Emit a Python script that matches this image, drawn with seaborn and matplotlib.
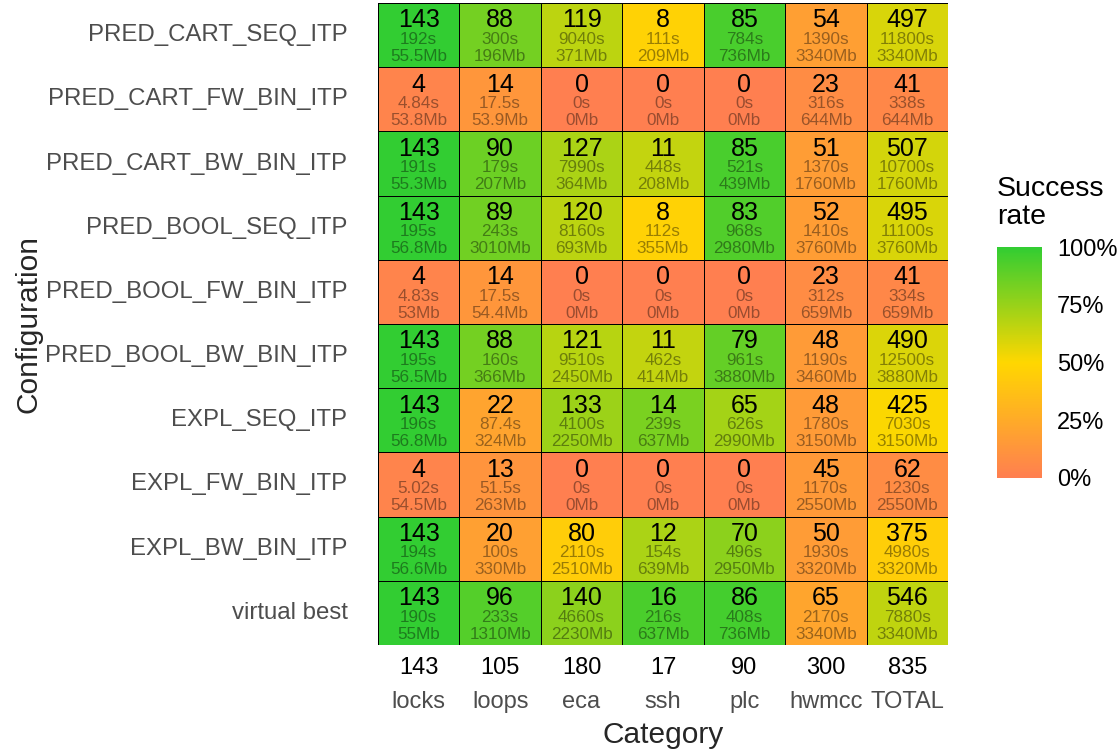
import numpy as np
import pandas as pd
import matplotlib
matplotlib.use('Agg')
import matplotlib.pyplot as plt
import matplotlib.transforms as mtransforms
import seaborn as sns
from matplotlib.colors import LinearSegmentedColormap

CONFIGS = [
    'PRED_CART_SEQ_ITP',
    'PRED_CART_FW_BIN_ITP',
    'PRED_CART_BW_BIN_ITP',
    'PRED_BOOL_SEQ_ITP',
    'PRED_BOOL_FW_BIN_ITP',
    'PRED_BOOL_BW_BIN_ITP',
    'EXPL_SEQ_ITP',
    'EXPL_FW_BIN_ITP',
    'EXPL_BW_BIN_ITP',
    'virtual best',
]
CATEGORIES = ['locks', 'loops', 'eca', 'ssh', 'plc', 'hwmcc', 'TOTAL']
CATEGORY_TOTALS = [143, 105, 180, 17, 90, 300, 835]

SOLVED = [
    [143, 88, 119, 8, 85, 54, 497],
    [4, 14, 0, 0, 0, 23, 41],
    [143, 90, 127, 11, 85, 51, 507],
    [143, 89, 120, 8, 83, 52, 495],
    [4, 14, 0, 0, 0, 23, 41],
    [143, 88, 121, 11, 79, 48, 490],
    [143, 22, 133, 14, 65, 48, 425],
    [4, 13, 0, 0, 0, 45, 62],
    [143, 20, 80, 12, 70, 50, 375],
    [143, 96, 140, 16, 86, 65, 546],
]

TIMES = [
    ['192s', '300s', '9040s', '111s', '784s', '1390s', '11800s'],
    ['4.84s', '17.5s', '0s', '0s', '0s', '316s', '338s'],
    ['191s', '179s', '7990s', '448s', '521s', '1370s', '10700s'],
    ['195s', '243s', '8160s', '112s', '968s', '1410s', '11100s'],
    ['4.83s', '17.5s', '0s', '0s', '0s', '312s', '334s'],
    ['195s', '160s', '9510s', '462s', '961s', '1190s', '12500s'],
    ['196s', '87.4s', '4100s', '239s', '626s', '1780s', '7030s'],
    ['5.02s', '51.5s', '0s', '0s', '0s', '1170s', '1230s'],
    ['194s', '100s', '2110s', '154s', '496s', '1930s', '4980s'],
    ['190s', '233s', '4660s', '216s', '408s', '2170s', '7880s'],
]

MEMORY = [
    ['55.5Mb', '196Mb', '371Mb', '209Mb', '736Mb', '3340Mb', '3340Mb'],
    ['53.8Mb', '53.9Mb', '0Mb', '0Mb', '0Mb', '644Mb', '644Mb'],
    ['55.3Mb', '207Mb', '364Mb', '208Mb', '439Mb', '1760Mb', '1760Mb'],
    ['56.8Mb', '3010Mb', '693Mb', '355Mb', '2980Mb', '3760Mb', '3760Mb'],
    ['53Mb', '54.4Mb', '0Mb', '0Mb', '0Mb', '659Mb', '659Mb'],
    ['56.5Mb', '366Mb', '2450Mb', '414Mb', '3880Mb', '3460Mb', '3880Mb'],
    ['56.8Mb', '324Mb', '2250Mb', '637Mb', '2990Mb', '3150Mb', '3150Mb'],
    ['54.5Mb', '263Mb', '0Mb', '0Mb', '0Mb', '2550Mb', '2550Mb'],
    ['56.6Mb', '330Mb', '2510Mb', '639Mb', '2950Mb', '3320Mb', '3320Mb'],
    ['55Mb', '1310Mb', '2230Mb', '637Mb', '736Mb', '3340Mb', '3340Mb'],
]

sns.set_theme(style='white')
plt.rcParams['font.family'] = ['Liberation Sans', 'DejaVu Sans']

solved = pd.DataFrame(SOLVED, index=CONFIGS, columns=CATEGORIES)
rate = solved / np.array(CATEGORY_TOTALS)

cmap = LinearSegmentedColormap.from_list('success', ['#FF7F50', '#FFD700', '#32CD32'])

fig = plt.figure(figsize=(11.2, 7.49), dpi=100)
ax = fig.add_axes([0.3375, 0.1389, 0.5089, 0.857])
cax = fig.add_axes([0.890, 0.362, 0.040, 0.308])

sns.heatmap(rate, ax=ax, cbar_ax=cax, cmap=cmap, vmin=0, vmax=1,
            linewidths=0.6, linecolor='black')

faded = (0, 0, 0, 0.4)
for i in range(len(CONFIGS)):
    for j in range(len(CATEGORIES)):
        ax.text(j + 0.5, i + 0.27, str(SOLVED[i][j]), ha='center', va='center',
                fontsize=18, color='black')
        ax.text(j + 0.5, i + 0.565, TIMES[i][j], ha='center', va='center',
                fontsize=12.3, color=faded)
        ax.text(j + 0.5, i + 0.83, MEMORY[i][j], ha='center', va='center',
                fontsize=12.3, color=faded)

# category sizes drawn above the category names
trans = mtransforms.blended_transform_factory(ax.transData, ax.transAxes)
for j, total in enumerate(CATEGORY_TOTALS):
    ax.text(j + 0.5, -0.036, str(total), transform=trans, ha='center', va='center',
            fontsize=17, color='black')

ax.set_xticks(np.arange(len(CATEGORIES)) + 0.5)
ax.set_xticklabels(CATEGORIES, rotation=0)
ax.set_yticks(np.arange(len(CONFIGS)) + 0.5)
ax.set_yticklabels(CONFIGS, rotation=0)
ax.tick_params(axis='x', length=0, pad=33, labelsize=17, labelcolor='#4D4D4D')
ax.tick_params(axis='y', length=0, pad=22, labelsize=17.3, labelcolor='#4D4D4D')
ax.set_xlabel('Category', fontsize=21.5, va='center')
ax.set_ylabel('Configuration', fontsize=21.5, va='center')
ax.xaxis.set_label_coords(0.5, -0.14)
ax.yaxis.set_label_coords(-0.614, 0.5)

cbar = ax.collections[0].colorbar
cbar.outline.set_visible(False)
cbar.set_ticks([0, 0.25, 0.5, 0.75, 1.0])
cbar.set_ticklabels(['0%', '25%', '50%', '75%', '100%'])
cax.yaxis.set_ticks_position('both')
cax.tick_params(axis='y', which='both', direction='in', color='white', length=5,
                width=0.8, labelsize=17, labelcolor='black', labelright=True,
                labelleft=False, pad=11)
fig.text(997 / 1120, 1 - 203 / 749, 'Success\nrate', ha='left', va='center',
         fontsize=20.5, linespacing=1.08, color='black')

plt.savefig('out.png', dpi=100)
plt.close()
